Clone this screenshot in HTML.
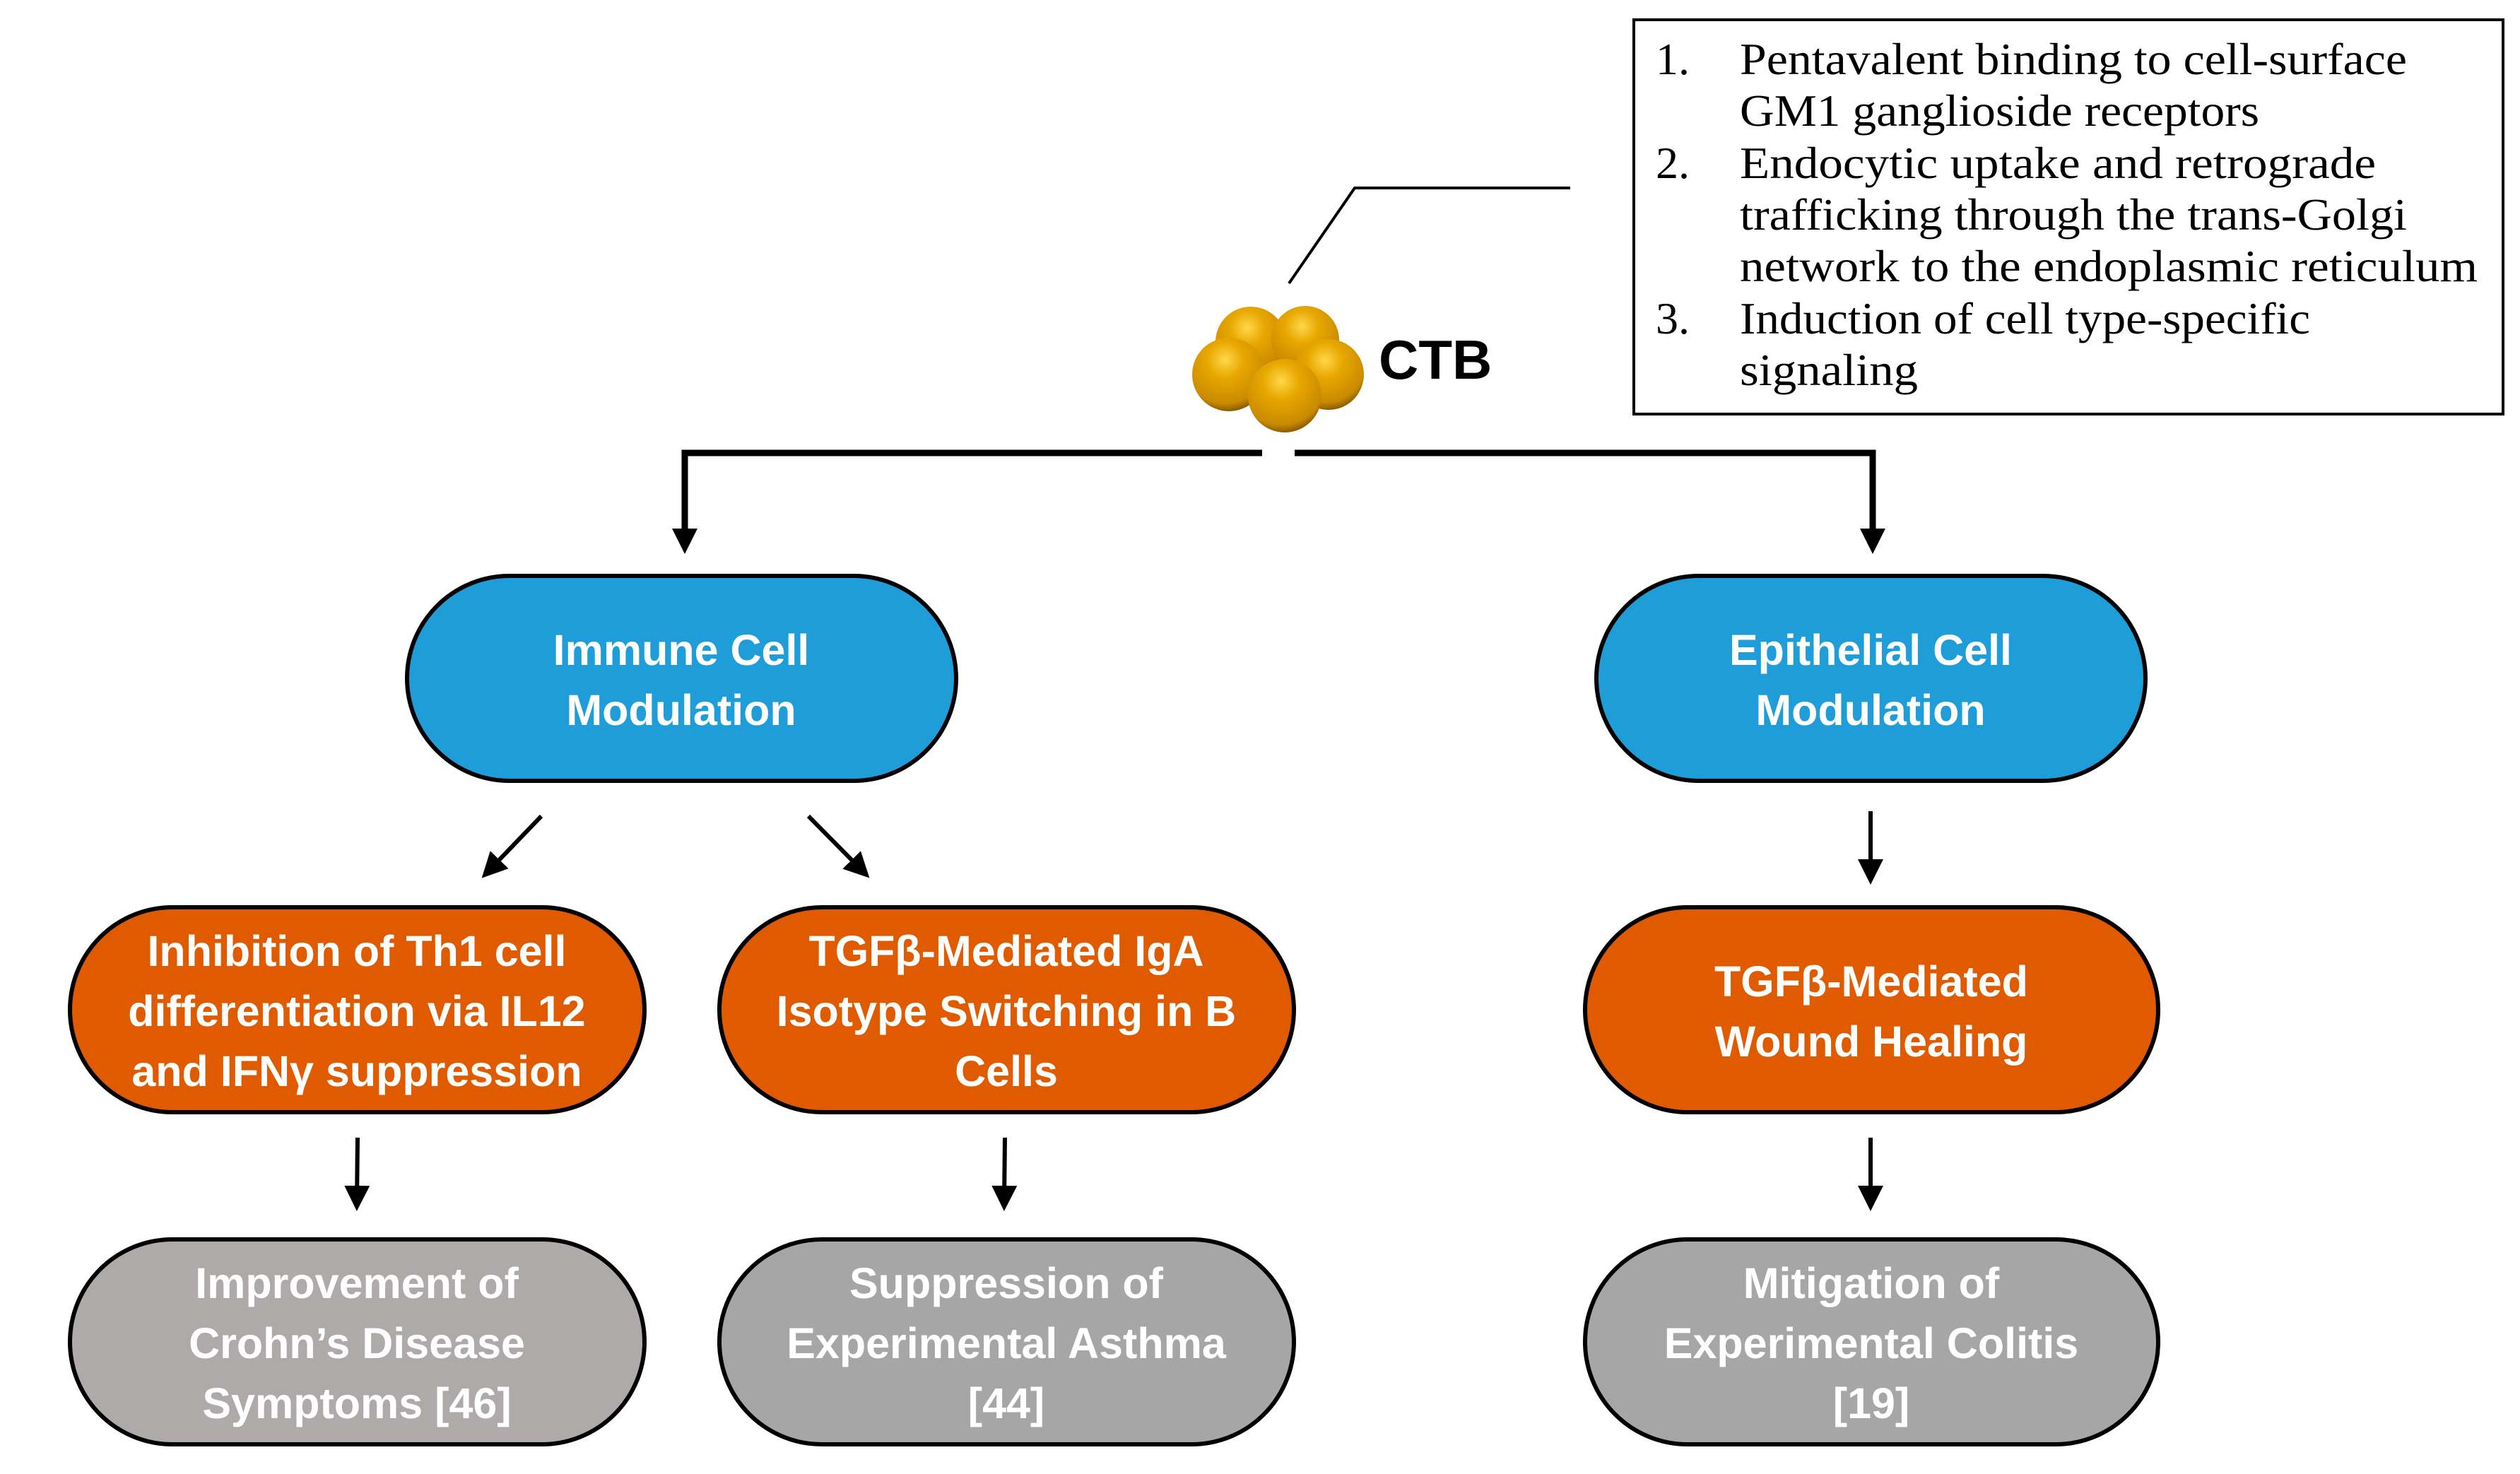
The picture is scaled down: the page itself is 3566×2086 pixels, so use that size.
<!DOCTYPE html>
<html><head><meta charset="utf-8"><style>
html,body{margin:0;padding:0;background:#fff;}
svg{display:block;}
.n{font-family:"Liberation Sans",sans-serif;font-weight:bold;fill:#fff;font-size:61px;text-anchor:middle;}
.s{font-family:"Liberation Serif",serif;font-size:64px;fill:#000;}
</style></head><body>
<svg width="3566" height="2086" viewBox="0 0 3566 2086" xmlns="http://www.w3.org/2000/svg">
<defs>
<radialGradient id="g" cx="0.45" cy="0.3" r="0.7">
<stop offset="0" stop-color="#ffd84a"/><stop offset="0.35" stop-color="#e8a800"/><stop offset="0.85" stop-color="#c98a00"/><stop offset="1" stop-color="#8a5c00"/>
</radialGradient>
<marker id="a" markerWidth="6" markerHeight="6" refX="4" refY="3" orient="auto" markerUnits="strokeWidth"><path d="M0,0 L6,3 L0,6 z" fill="#000"/></marker>
<marker id="b" markerWidth="4" markerHeight="4" refX="3" refY="2" orient="auto" markerUnits="strokeWidth"><path d="M0,0 L4,2 L0,4 z" fill="#000"/></marker>
</defs>
<rect x="2312" y="28" width="1230" height="558" fill="#fff" stroke="#000" stroke-width="4"/>
<text class="s" x="2343" y="105">1.</text><text class="s" x="2462" y="105" textLength="944" lengthAdjust="spacingAndGlyphs">Pentavalent binding to cell-surface</text>
<text class="s" x="2462" y="178" textLength="735" lengthAdjust="spacingAndGlyphs">GM1 ganglioside receptors</text>
<text class="s" x="2343" y="252">2.</text><text class="s" x="2462" y="252" textLength="900" lengthAdjust="spacingAndGlyphs">Endocytic uptake and retrograde</text>
<text class="s" x="2462" y="325" textLength="944" lengthAdjust="spacingAndGlyphs">trafficking through the trans-Golgi</text>
<text class="s" x="2462" y="398" textLength="1044" lengthAdjust="spacingAndGlyphs">network to the endoplasmic reticulum</text>
<text class="s" x="2343" y="472">3.</text><text class="s" x="2462" y="472" textLength="807" lengthAdjust="spacingAndGlyphs">Induction of cell type-specific</text>
<text class="s" x="2462" y="545" textLength="252" lengthAdjust="spacingAndGlyphs">signaling</text>
<polyline points="1824,401 1917,266 2222,266" fill="none" stroke="#000" stroke-width="4"/>
<circle cx="1770" cy="484" r="50" fill="url(#g)"/>
<circle cx="1847" cy="481" r="48" fill="url(#g)"/>
<circle cx="1739" cy="530" r="52" fill="url(#g)"/>
<circle cx="1880" cy="530" r="50" fill="url(#g)"/>
<circle cx="1818" cy="560" r="52" fill="url(#g)"/>
<text x="1951" y="536" font-family="Liberation Sans,sans-serif" font-weight="bold" font-size="78" fill="#000">CTB</text>
<g stroke="#000" stroke-width="9" fill="none">
<polyline points="1786,641 969,641 969,775" marker-end="url(#b)"/>
<polyline points="1832,641 2650,641 2650,775" marker-end="url(#b)"/>
</g>
<g stroke="#000" stroke-width="6" fill="none">
<line x1="766" y1="1155" x2="690" y2="1234" marker-end="url(#a)"/>
<line x1="1144" y1="1155" x2="1222" y2="1234" marker-end="url(#a)"/>
<line x1="2647" y1="1148" x2="2647" y2="1240" marker-end="url(#a)"/>
<line x1="506" y1="1610" x2="505" y2="1702" marker-end="url(#a)"/>
<line x1="1422" y1="1610" x2="1421" y2="1702" marker-end="url(#a)"/>
<line x1="2647" y1="1610" x2="2647" y2="1702" marker-end="url(#a)"/>
</g>
<g stroke="#000" stroke-width="6">
<rect x="576" y="815" width="777" height="290" rx="145" fill="#1e9dd8"/>
<rect x="2259" y="815" width="777" height="290" rx="145" fill="#1e9dd8"/>
<rect x="99" y="1284" width="813" height="290" rx="145" fill="#e05a00"/>
<rect x="1018" y="1284" width="813" height="290" rx="145" fill="#e05a00"/>
<rect x="2243" y="1284" width="811" height="290" rx="145" fill="#e05a00"/>
<rect x="99" y="1754" width="813" height="290" rx="145" fill="#aeaaa9"/>
<rect x="1018" y="1754" width="813" height="290" rx="145" fill="#a6a6a6"/>
<rect x="2243" y="1754" width="811" height="290" rx="145" fill="#a6a6a6"/>
</g>
<g class="n">
<text x="964" y="941">Immune Cell</text><text x="964" y="1026">Modulation</text>
<text x="2647" y="941">Epithelial Cell</text><text x="2647" y="1026">Modulation</text>
<text x="505" y="1367">Inhibition of Th1 cell</text><text x="505" y="1452">differentiation via IL12</text><text x="505" y="1537">and IFNγ suppression</text>
<text x="1424" y="1367">TGFβ-Mediated IgA</text><text x="1424" y="1452">Isotype Switching in B</text><text x="1424" y="1537">Cells</text>
<text x="2648" y="1410">TGFβ-Mediated</text><text x="2648" y="1495">Wound Healing</text>
<text x="505" y="1837">Improvement of</text><text x="505" y="1922">Crohn’s Disease</text><text x="505" y="2007">Symptoms [46]</text>
<text x="1424" y="1837">Suppression of</text><text x="1424" y="1922">Experimental Asthma</text><text x="1424" y="2007">[44]</text>
<text x="2648" y="1837">Mitigation of</text><text x="2648" y="1922">Experimental Colitis</text><text x="2648" y="2007">[19]</text>
</g>
</svg>
</body></html>
